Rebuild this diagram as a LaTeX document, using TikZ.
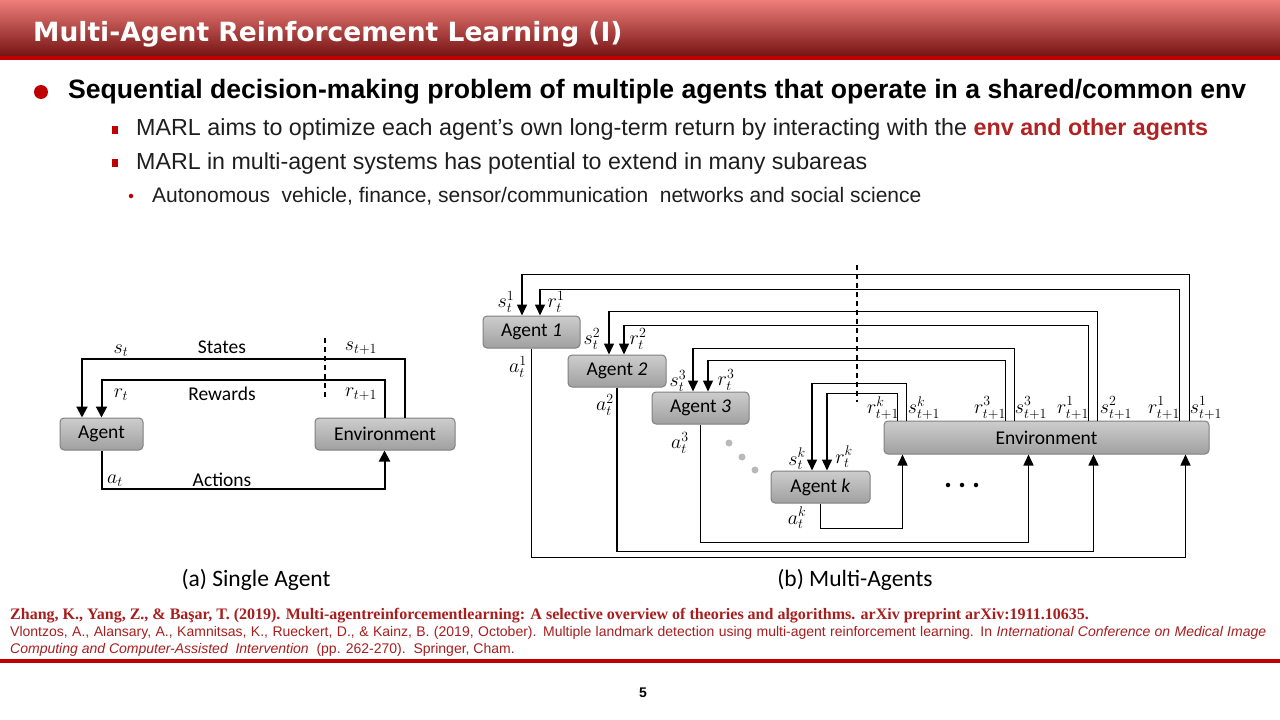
\RequirePackage{fix-cm}
\documentclass[tikz,border=0pt]{standalone}
\usepackage{fontspec}
\setmainfont{Liberation Sans}
\newfontfamily\titlefont{DejaVu Sans}
\newfontfamily\diagfont{Carlito}
\newfontfamily\refserif{Liberation Serif}
\newfontfamily\refsans{Liberation Sans}
\usetikzlibrary{arrows.meta}
\definecolor{mainred}{RGB}{192,0,0}
\definecolor{hired}{RGB}{178,34,34}
\definecolor{refred}{RGB}{168,30,30}
\definecolor{titletop}{RGB}{238,126,121}
\definecolor{titlemid}{RGB}{214,102,96}
\definecolor{titlebot}{RGB}{118,20,20}
\definecolor{boxtop}{RGB}{205,205,205}
\definecolor{boxbot}{RGB}{160,160,160}
\definecolor{boxborder}{RGB}{128,128,128}
\definecolor{bodytext}{RGB}{30,30,30}
\tikzset{
  agbox/.style={draw=boxborder, line width=1pt, rounded corners=4pt,
    top color=boxtop, bottom color=boxbot, inner sep=0pt,
    minimum height=32pt, font=\diagfont\fontsize{19.5}{21}\selectfont},
  arr/.style={line width=2pt, -{Triangle[width=11pt,length=11pt]}},
  arrthin/.style={line width=1.5pt, -{Triangle[width=10pt,length=11pt]}},
  dashline/.style={line width=1.3pt, dash pattern=on 5pt off 4pt},
  lbl/.style={inner sep=0pt, font=\fontsize{20}{22}\selectfont},
  dlbl/.style={inner sep=0pt, font=\diagfont\fontsize{19.5}{21}\selectfont},
  captxt/.style={inner sep=0pt, font=\diagfont\fontsize{23.5}{25}\selectfont},
  greydot/.style={circle, fill=gray!55, inner sep=0pt, minimum size=7pt},
  blackdot/.style={circle, fill=black, inner sep=0pt, minimum size=4.5pt}
}
\begin{document}
\begin{tikzpicture}[x=1pt,y=-1pt]
\useasboundingbox (0,0) rectangle (1280,720);
\fill[white] (0,0) rectangle (1280,720);
% title bar
\shade[top color=titletop, middle color=titlemid, bottom color=titlebot] (0,0) rectangle (1280,56);
\fill[mainred] (0,56) rectangle (1280,60);
\node[anchor=base west, inner sep=0pt, text=white, font=\titlefont\bfseries\fontsize{26.5}{30}\selectfont] (title) at (33,41) {Multi-Agent Reinforcement Learning (I)};
% bullets
\node[circle, fill=mainred, inner sep=0pt, minimum size=14pt] (b1) at (41,92) {};
\node[anchor=west, inner sep=0pt, text=black, font=\bfseries\fontsize{26.6}{30}\selectfont] (t1) at (68,92) {Sequential decision-making problem of multiple agents that operate in a shared/common env};
\node[fill=mainred, inner sep=0pt, minimum width=6pt, minimum height=8pt] (b2) at (115,130) {};
\node[anchor=west, inner sep=0pt, text=bodytext, font=\fontsize{23.3}{26}\selectfont] (t2) at (136,130) {MARL aims to optimize each agent’s own long-term return by interacting with the \textcolor{hired}{\bfseries env and other agents}};
\node[fill=mainred, inner sep=0pt, minimum width=6pt, minimum height=8pt] (b3) at (115,163) {};
\node[anchor=west, inner sep=0pt, text=bodytext, font=\fontsize{23.2}{26}\selectfont] (t3) at (136,163) {MARL in multi-agent systems has potential to extend in many subareas};
\node[circle, fill=mainred, inner sep=0pt, minimum size=4.5pt] (b4) at (131,196) {};
\node[anchor=west, inner sep=0pt, text=bodytext, font=\fontsize{21}{24}\selectfont] (t4) at (152,196) {Autonomous\ \ vehicle, finance, sensor/communication\ \ networks and social science};
% ---------- (a) single agent ----------
\node[agbox, minimum width=83pt] (agentA) at (101.5,434) {Agent};
\node[agbox, minimum width=140pt] (envA) at (385,434) {Environment};
\draw[arr] ([xshift=90pt]envA.north west) -- ++(0,-59) -| ([xshift=-19.5pt]agentA.north);
\draw[arr] ([xshift=70pt]envA.north west) -- ++(0,-38) -| (agentA.north);
\draw[arr] (agentA.south) -- ++(0,38) -| ([xshift=70pt]envA.south west);
\coordinate (dA1) at (325,338);
\coordinate (dA2) at (325,397);
\draw[dashline] (dA1) -- (dA2);
\node[lbl] (lst) at (121,351) {$s_t$};
\node[dlbl] (lstates) at (222,347) {States};
\node[lbl] (lst1) at (361,348) {$s_{t+1}$};
\node[lbl] (lrt) at (121,395) {$r_t$};
\node[dlbl] (lrew) at (222,394) {Rewards};
\node[lbl] (lrt1) at (361,394) {$r_{t+1}$};
\node[lbl] (lat) at (115,481) {$a_t$};
\node[dlbl] (lact) at (222,480) {Actions};
\node[captxt] (capa) at (256,580) {(a) Single Agent};
% ---------- (b) multi agents ----------
\node[agbox, minimum width=97pt] (ag1) at (531.5,332) {Agent \textit{1}};
\node[agbox, minimum width=98pt] (ag2) at (617,371) {Agent \textit{2}};
\node[agbox, minimum width=97pt] (ag3) at (700.5,408) {Agent \textit{3}};
\node[agbox, minimum width=99pt] (agk) at (820.5,487) {Agent \textit{k}};
\node[agbox, minimum width=325pt, minimum height=33pt] (env) at (1046.5,437.5) {Environment};
% states / rewards to agents
\draw[arrthin] ([xshift=306pt]env.north west) -- ++(0,-146) -| ([xshift=-9.5pt]ag1.north);
\draw[arrthin] ([xshift=296pt]env.north west) -- ++(0,-131) -| ([xshift=8.5pt]ag1.north);
\draw[arrthin] ([xshift=214pt]env.north west) -- ++(0,-109) -| ([xshift=-8pt]ag2.north);
\draw[arrthin] ([xshift=205pt]env.north west) -- ++(0,-95) -| ([xshift=7pt]ag2.north);
\draw[arrthin] ([xshift=131pt]env.north west) -- ++(0,-72) -| ([xshift=-7.5pt]ag3.north);
\draw[arrthin] ([xshift=122pt]env.north west) -- ++(0,-60) -| ([xshift=7.5pt]ag3.north);
\draw[arrthin] ([xshift=23pt]env.north west) -- ++(0,-37) -| ([xshift=-8.5pt]agk.north);
\draw[arrthin] ([xshift=14pt]env.north west) -- ++(0,-27) -| ([xshift=6.5pt]agk.north);
% actions
\draw[arrthin] (ag1.south) -- ++(0,209) -| ([xshift=302pt]env.south west);
\draw[arrthin] (ag2.south) -- ++(0,164) -| ([xshift=210pt]env.south west);
\draw[arrthin] (ag3.south) -- ++(0,118) -| ([xshift=145pt]env.south west);
\draw[arrthin] (agk.south) -- ++(0,25) -| ([xshift=19pt]env.south west);
\coordinate (dB1) at (857,265);
\coordinate (dB2) at (857,402);
\draw[dashline] (dB1) -- (dB2);
% labels
\node[lbl] (s1) at (506,302) {$s_t^1$};
\node[lbl] (r1) at (556,302) {$r_t^1$};
\node[lbl] (a1) at (518,367) {$a_t^1$};
\node[lbl] (s2) at (592,339) {$s_t^2$};
\node[lbl] (r2) at (638,339) {$r_t^2$};
\node[lbl] (a2) at (605,405) {$a_t^2$};
\node[lbl] (s3) at (678,381) {$s_t^3$};
\node[lbl] (r3) at (726,380) {$r_t^3$};
\node[lbl] (a3) at (680,443) {$a_t^3$};
\node[lbl] (sk) at (797,459) {$s_t^k$};
\node[lbl] (rk) at (844,457) {$r_t^k$};
\node[lbl] (ak) at (797,518) {$a_t^k$};
\node[lbl] (n1) at (883,408) {$r_{t+1}^k$};
\node[lbl] (n2) at (924,408) {$s_{t+1}^k$};
\node[lbl] (n3) at (990,408) {$r_{t+1}^3$};
\node[lbl] (n4) at (1031,408) {$s_{t+1}^3$};
\node[lbl] (n5) at (1073,408) {$r_{t+1}^1$};
\node[lbl] (n6) at (1116,408) {$s_{t+1}^2$};
\node[lbl] (n7) at (1164,408) {$r_{t+1}^1$};
\node[lbl] (n8) at (1206,408) {$s_{t+1}^1$};
\node[greydot] (g1) at (729,443) {};
\node[greydot] (g2) at (742,457) {};
\node[greydot] (g3) at (755,470) {};
\node[blackdot] (e1) at (948,485) {};
\node[blackdot] (e2) at (962,485) {};
\node[blackdot] (e3) at (976,485) {};
\node[captxt] (capb) at (855,580) {(b) Multi-Agents};
% references
\node[anchor=base west, inner sep=0pt, text=refred, font=\refserif\bfseries\fontsize{16}{18}\selectfont] (ref1) at (10,619) {Zhang, K., Yang, Z., \& Başar, T. (2019). Multi-agentreinforcementlearning: A selective overview of theories and algorithms. arXiv preprint arXiv:1911.10635.};
\node[anchor=base west, inner sep=0pt, text=refred, font=\refsans\fontsize{14}{16}\selectfont] (ref2) at (10,636) {\makebox[1256pt][s]{Vlontzos, A., Alansary, A., Kamnitsas, K., Rueckert, D., \& Kainz, B. (2019, October). Multiple landmark detection using multi-agent reinforcement learning. In \textit{International Conference on Medical Image}}};
\node[anchor=base west, inner sep=0pt, text=refred, font=\refsans\fontsize{14}{16}\selectfont] (ref3) at (10,653) {\textit{Computing and Computer-Assisted\ \ Intervention}\ \ (pp. 262-270).\ \ Springer, Cham.};
\fill[mainred] (0,659) rectangle (1280,663);
\node[inner sep=0pt, font=\bfseries\fontsize{14}{16}\selectfont] (pg) at (643,693) {5};
\end{tikzpicture}
\end{document}
